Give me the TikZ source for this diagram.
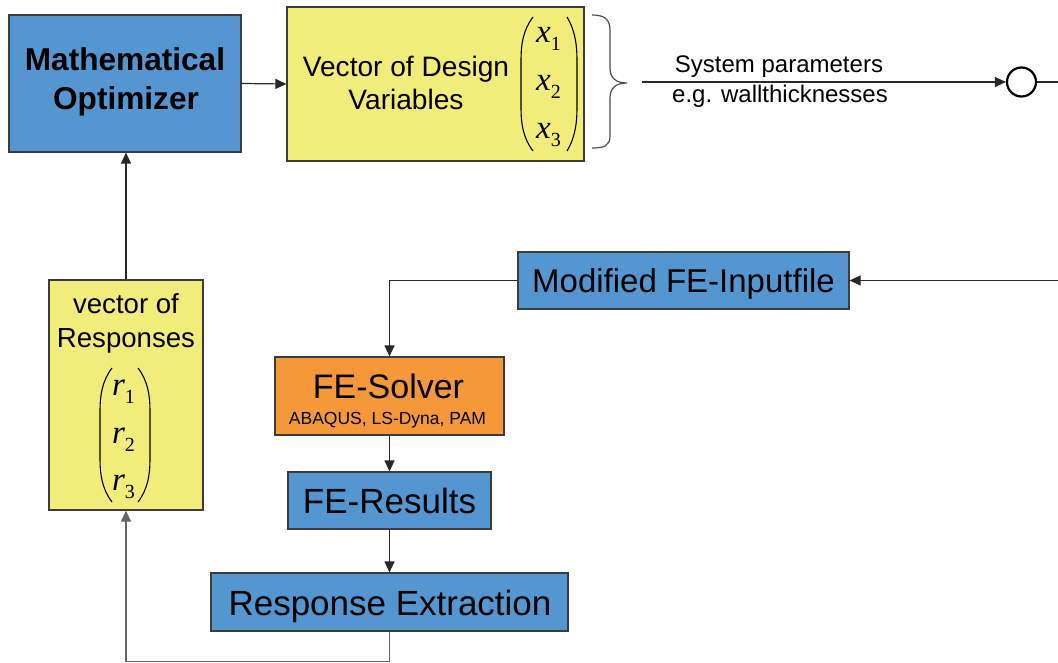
\documentclass[tikz,border=0pt]{standalone}
\usepackage{fontspec}
\setmainfont{Liberation Sans}
\newfontfamily\tms{Liberation Serif}
\usetikzlibrary{arrows.meta}
\definecolor{boxblue}{RGB}{84,150,207}
\definecolor{boxyellow}{RGB}{242,236,122}
\definecolor{boxorange}{RGB}{245,152,58}
\definecolor{edge}{RGB}{60,60,60}
\definecolor{conn}{RGB}{40,40,40}
\newcommand\dvar[2]{{\fontsize{33}{33}\selectfont\tms\itshape #1}\raisebox{-8pt}{\fontsize{20}{20}\selectfont\tms #2}}
\begin{document}
\begin{tikzpicture}[x=1pt,y=-1pt,
  box/.style={draw=edge, line width=1.2pt, inner sep=0pt},
  txt/.style={anchor=base, inner sep=0pt},
  conn/.style={draw=conn, line width=1.2pt},
  arr/.style={conn, -{Triangle[length=11pt,width=10pt]}},
  paren/.style={draw=black, line width=1.1pt},
  bracel/.style={draw=black!70, line width=1.2pt}]
\useasboundingbox (0,0) rectangle (1058,663);

% boxes
\node[box,fill=boxblue,minimum width=232,minimum height=137] (opt) at (125,83.5) {};
\node[box,fill=boxyellow,minimum width=297,minimum height=154] (vec) at (435.5,84) {};
\node[box,fill=boxyellow,minimum width=154,minimum height=230] (resp) at (126,395) {};
\node[box,fill=boxblue,minimum width=331,minimum height=57] (mod) at (683.5,280.5) {};
\node[box,fill=boxorange,minimum width=229,minimum height=78] (sol) at (389.5,396) {};
\node[box,fill=boxblue,minimum width=203,minimum height=57] (res) at (389.5,500.5) {};
\node[box,fill=boxblue,minimum width=357,minimum height=58] (ext) at (389.5,602) {};
\node[draw=black,line width=2.2pt,circle,minimum size=29,inner sep=0pt] (sum) at (1021.5,82) {};

% texts
\node[txt,font=\bfseries\fontsize{31.6}{38}\selectfont] (t1) at (125,71) {Mathematical};
\node[txt,font=\bfseries\fontsize{31.6}{38}\selectfont] (t2) at (126,110) {Optimizer};
\node[txt,font=\fontsize{28.1}{34}\selectfont] (t3) at (406,77) {Vector of Design};
\node[txt,font=\fontsize{28.1}{34}\selectfont] (t4) at (406,110) {Variables};
\node[txt] (x1) at (548.5,43) {\dvar{x}{1}};
\node[txt] (x2) at (548.5,91) {\dvar{x}{2}};
\node[txt] (x3) at (548.5,139) {\dvar{x}{3}};
\node[txt,font=\fontsize{24}{30}\selectfont] (t5) at (779,73) {System parameters};
\node[txt,font=\fontsize{24}{30}\selectfont] (t6) at (780,103) {e.g. wallthicknesses};
\node[txt,font=\fontsize{27.6}{34}\selectfont] (t7) at (126,313) {vector of};
\node[txt,font=\fontsize{27.6}{34}\selectfont] (t8) at (126,347) {Responses};
\node[txt] (r1) at (123.5,395) {\dvar{r}{1}};
\node[txt] (r2) at (123.5,443) {\dvar{r}{2}};
\node[txt] (r3) at (123.5,490) {\dvar{r}{3}};
\node[txt,font=\fontsize{33}{40}\selectfont] (t9) at (683.5,293) {Modified FE-Inputfile};
\node[txt,font=\fontsize{34}{40}\selectfont] (t10) at (388.5,398) {FE-Solver};
\node[txt,font=\fontsize{17.5}{20}\selectfont] (t11) at (387.5,424) {ABAQUS, LS-Dyna, PAM};
\node[txt,font=\fontsize{35}{40}\selectfont] (t12) at (389.5,513) {FE-Results};
\node[txt,font=\fontsize{35}{40}\selectfont] (t13) at (390,615) {Response Extraction};

% parentheses
\draw[paren] (533,17) .. controls (523,30) and (521,45) .. (521,60) -- (521,108) .. controls (521,123) and (523,138) .. (533,151);
\draw[paren] (567,17) .. controls (575,30) and (577,45) .. (577,60) -- (577,108) .. controls (577,123) and (575,138) .. (567,151);
\draw[paren] (112,368) .. controls (102,381) and (100,396) .. (100,411) -- (100,459) .. controls (100,474) and (102,489) .. (112,502);
\draw[paren] (138,368) .. controls (148,381) and (150,396) .. (150,411) -- (150,459) .. controls (150,474) and (148,489) .. (138,502);

% brace
\draw[bracel] (592,15) .. controls (604,15) and (610,19) .. (610,30) -- (610,68) .. controls (610,78) and (616,83) .. (627,83) .. controls (616,83) and (610,88) .. (610,98) -- (610,136) .. controls (610,146) and (604,148) .. (592,148);

% coordinates
\coordinate (bs) at (642,82);
\coordinate (rout) at (1058,82);
\coordinate (rin) at (1058,280.5);
\coordinate (bot) at (389.5,661.5);

% connectors
\draw[arr] (opt.east) -- (vec.west);
\draw[arr] (resp.north) -- (resp.north |- opt.south);
\draw[arr] (bs) -- (sum.west);
\draw[conn] (sum.east) -- (rout);
\draw[arr] (rin) -- (mod.east);
\draw[arr] (mod.west) -| (sol.north);
\draw[arr] (sol.south) -- (res.north);
\draw[arr] (res.south) -- (ext.north);
\draw[arr, draw=black!60] (ext.south) -- (bot) -| (resp.south);
\end{tikzpicture}
\end{document}
